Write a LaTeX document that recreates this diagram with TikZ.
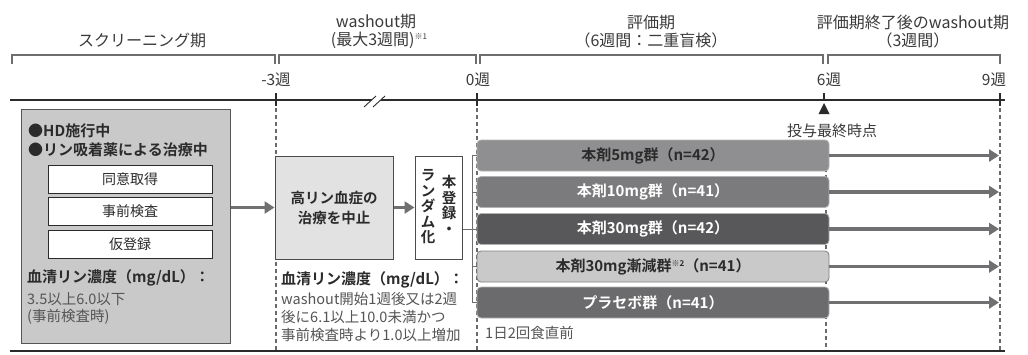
\documentclass[tikz,border=0pt]{standalone}
\usepackage{fontspec}
\setmainfont{Noto Sans CJK JP}[BoldFont={Noto Sans CJK JP Bold}]
\usetikzlibrary{arrows.meta}
\definecolor{ink}{HTML}{2B2B2B}
\definecolor{txt}{HTML}{3A3A3A}
\definecolor{soft}{HTML}{555555}
\definecolor{brk}{HTML}{6E6E6E}
\definecolor{dsh}{HTML}{6A6A6A}
\definecolor{arr}{HTML}{707072}
\definecolor{lfill}{HTML}{C9C9CA}
\definecolor{mfill}{HTML}{E2E2E3}
\definecolor{bA}{HTML}{8F8F91}
\definecolor{bB}{HTML}{7B7B7D}
\definecolor{bC}{HTML}{58585A}
\definecolor{bD}{HTML}{C9C9CA}
\definecolor{bE}{HTML}{6B6B6D}
\tikzset{
  hdr/.style={text=txt, inner sep=0pt, font=\fontsize{16}{18}\selectfont},
  tick/.style={text=txt, inner sep=0pt, font=\fontsize{15.5}{17}\selectfont},
  bracketline/.style={draw=brk, line width=1.4pt},
  dashline/.style={draw=dsh, line width=1.2pt, dash pattern=on 4pt off 3pt},
  lbox/.style={draw=ink!80, line width=1pt, fill=lfill, inner sep=0pt},
  wbox/.style={draw=ink, line width=0.9pt, fill=white, inner sep=0pt, minimum width=164pt, minimum height=28pt, text=ink, font=\fontsize{14}{16}\selectfont},
  mbox/.style={draw=ink!85, line width=1pt, fill=mfill, inner sep=0pt},
  rbox/.style={draw=ink!85, line width=1pt, fill=white, inner sep=0pt},
  grp/.style={draw=white!70!black, line width=0.8pt, rounded corners=4pt, minimum width=352pt, minimum height=31pt, inner sep=0pt, font=\bfseries\fontsize{15}{17}\selectfont},
  garrow/.style={draw=arr, line width=3.5pt, -{Triangle[length=10pt,width=12pt]}},
  conn/.style={draw=brk, line width=1pt},
  body/.style={text=txt, inner sep=0pt, anchor=west, font=\fontsize{14.5}{16}\selectfont},
  bhead/.style={text=ink, inner sep=0pt, anchor=west, font=\bfseries\fontsize{15}{17}\selectfont},
}
\begin{document}
\begin{tikzpicture}[x=1pt,y=-1pt]
\useasboundingbox[fill=white] (0,0) rectangle (1028,354);

% headers
\node[hdr] (h1) at (142,40) {スクリーニング期};
\node[hdr] (h2a) at (376,22) {washout期};
\node[hdr] (h2b) at (379,40) {(最大3週間)\raisebox{6pt}{\fontsize{8}{8}\selectfont ※1}};
\node[hdr] (h3a) at (651,22) {評価期};
\node[hdr] (h3b) at (651,40) {（6週間：二重盲検）};
\node[hdr] (h4a) at (913,22) {評価期終了後のwashout期};
\node[hdr] (h4b) at (913,40) {（3週間）};

% brackets
\draw[bracketline] (12,64) -- (12,55) -- (275,55) -- (275,64);
\draw[bracketline] (279,64) -- (279,55) -- (476,55) -- (476,64);
\draw[bracketline] (480,64) -- (480,55) -- (823,55) -- (823,64);
\draw[bracketline] (828,64) -- (828,55) -- (1000,55) -- (1000,64);

% tick labels
\node[tick] (t1) at (276,80) {-3週};
\node[tick] (t2) at (478,80) {0週};
\node[tick] (t3) at (829,80) {6週};
\node[tick] (t4) at (994,80) {9週};

% timeline
\draw[ink, line width=1.6pt] (10,100) -- (1005,100);
\foreach \x in {276,477,1000} \draw[ink, line width=1.6pt] (\x,93) -- (\x,106);
\draw[ink, line width=1.6pt] (824,93) -- (824,100);
\fill[ink] (824,103) -- (829.5,114) -- (818.5,114) -- cycle;
% break mark
\fill[white] (364,107) -- (376,96) -- (385,96) -- (373,107) -- cycle;
\draw[ink, line width=0.9pt] (364,107) -- (376,96);
\draw[ink, line width=0.9pt] (373,107) -- (385,96);

% dashed vertical lines
\draw[dashline] (276,108) -- (276,351);
\draw[dashline] (477,108) -- (477,351);
\draw[dashline] (1000,108) -- (1000,351);
\draw[dashline] (826,140) -- (826,351);

% bottom line
\draw[ink, line width=1.6pt] (10,351) -- (1005,351);

% left box
\node[lbox, minimum width=209pt, minimum height=234pt, anchor=north west] (L) at (21,109) {};
\node[bhead] (l1) at (28,131) {●HD施行中};
\node[bhead] (l2) at (28,150) {●リン吸着薬による治療中};
\node[wbox] (w1) at (130,179) {同意取得};
\node[wbox] (w2) at (130,211) {事前検査};
\node[wbox] (w3) at (130,244) {仮登録};
\node[bhead] (l3) at (27,278) {血清リン濃度（mg/dL）：};
\node[body, text=soft] (l4) at (27,299) {3.5以上6.0以下};
\node[body, text=soft] (l5) at (27,317) {(事前検査時)};

% middle boxes
\node[mbox, minimum width=118pt, minimum height=103pt, align=center, font=\bfseries\fontsize{14.5}{20}\selectfont, text=ink] (M) at (334,207.5) {高リン血症の\\治療を中止};
\node[rbox, minimum width=47pt, minimum height=103pt] (R) at (438.5,207.5) {};
\node[inner sep=0pt, align=center, font=\bfseries\fontsize{14.5}{15.5}\selectfont, text=ink] (Rr) at (449,205) {本\\登\\録\\・};
\node[inner sep=0pt, align=center, font=\bfseries\fontsize{14.5}{15.5}\selectfont, text=ink] (Rl) at (428,207) {ラ\\ン\\ダ\\ム\\化};

\draw[garrow] (L.east |- M.west) -- (M.west);
\draw[garrow] (M.east) -- (R.west);

\node[bhead] (m1) at (281,280) {血清リン濃度（mg/dL）：};
\node[body, text=soft] (m2) at (281,299) {washout開始1週後又は2週};
\node[body, text=soft] (m3) at (281,317) {後に6.1以上10.0未満かつ};
\node[body, text=soft] (m4) at (281,335) {事前検査時より1.0以上増加};

% group bars
\node[grp, fill=bA, text=ink] (B1) at (653,155.5) {本剤5mg群（n=42）};
\node[grp, fill=bB, text=white] (B2) at (653,192) {本剤10mg群（n=41）};
\node[grp, fill=bC, text=white] (B3) at (653,229) {本剤30mg群（n=42）};
\node[grp, fill=bD, draw=ink!60, text=ink] (B4) at (653,266.5) {本剤30mg漸減群\raisebox{5pt}{\fontsize{8}{8}\selectfont ※2}（n=41）};
\node[grp, fill=bE, text=white] (B5) at (653,302.5) {プラセボ群（n=41）};

% bracket to groups
\coordinate (bk) at (472,0);
\draw[conn] (R.east |- B3.west) -- (bk |- B3.west);
\draw[conn] (bk |- B1.west) -- (bk |- B5.west);
\foreach \b in {B1,B2,B3,B4,B5} \draw[conn] (bk |- \b.west) -- (\b.west);

% arrows after last dose
\coordinate (e9) at (999,0);
\foreach \b in {B1,B2,B3,B4,B5} \draw[garrow] (\b.east) -- (e9 |- \b.east);

\node[tick, font=\fontsize{15}{17}\selectfont] (last) at (832,131) {投与最終時点};
\node[body, text=soft] (note) at (485,333) {1日2回食直前};
\end{tikzpicture}
\end{document}
